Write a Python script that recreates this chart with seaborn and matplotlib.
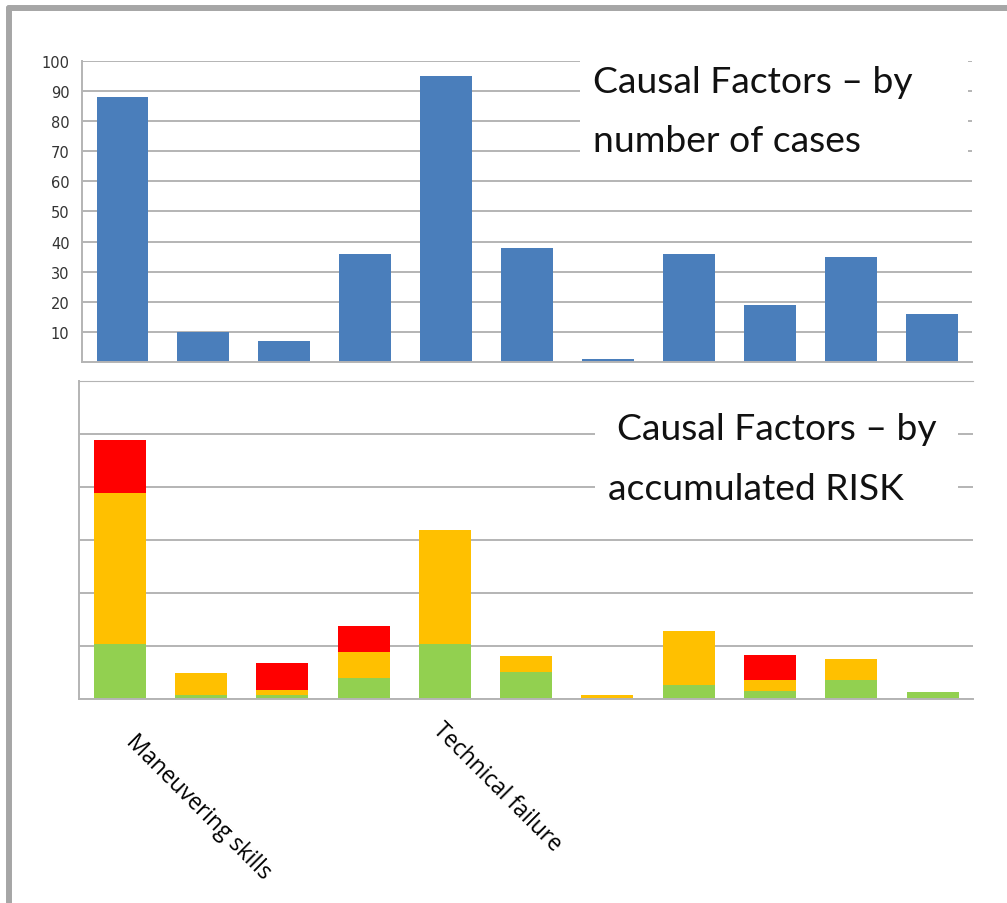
import matplotlib
matplotlib.use("Agg")
import pandas as pd
import seaborn as sns
import matplotlib.pyplot as plt
from matplotlib.patches import Rectangle
from matplotlib.lines import Line2D
from matplotlib.transforms import ScaledTranslation

# causal factors (only two of them are labelled in the original)
factors = ["CF%02d" % i for i in range(1, 12)]
tick_labels = ["Maneuvering skills", "", "", "", "Technical failure",
               "", "", "", "", "", ""]

# number of cases per factor
cases = [88, 10, 7, 36, 95, 38, 1, 36, 19, 35, 16]

# accumulated risk, split by risk level (gridline units)
risk_green = [1.04, 0.08, 0.08, 0.40, 1.04, 0.51, 0.00, 0.26, 0.15, 0.36, 0.13]
risk_orange = [2.85, 0.41, 0.09, 0.49, 2.15, 0.30, 0.08, 1.02, 0.21, 0.39, 0.00]
risk_red = [1.00, 0.00, 0.51, 0.49, 0.00, 0.00, 0.00, 0.00, 0.47, 0.00, 0.00]

BLUE = "#4a7ebb"
GREEN = "#92d050"
ORANGE = "#ffc000"
RED = "#ff0000"
GRID = "#b4b4b4"
TITLE_FONT = ["Lato", "DejaVu Sans"]


def style_axes(ax, top):
    ax.set_xlim(-0.5, len(factors) - 0.5)
    ax.set_ylim(0, top)
    ax.grid(axis="y", color=GRID, linewidth=1.4)
    ax.grid(axis="x", visible=False)
    ax.set_axisbelow(True)
    for side in ["top", "right"]:
        ax.spines[side].set_visible(False)
    for side in ["left", "bottom"]:
        ax.spines[side].set_color(GRID)
        ax.spines[side].set_linewidth(1.4)
    ax.set_xlabel("")
    ax.set_ylabel("")


def title_box(ax, box, lines):
    ax.add_patch(Rectangle(box[:2], box[2], box[3], transform=ax.transAxes,
                           facecolor="white", edgecolor="none", zorder=3,
                           clip_on=False))
    for x, y, txt in lines:
        ax.text(x, y, txt, transform=ax.transAxes, fontsize=26.8,
                family=TITLE_FONT, color="#111111", va="baseline",
                ha="left", zorder=4)


if __name__ == '__main__':
    df = pd.DataFrame({"factor": factors, "cases": cases,
                       "green": risk_green, "orange": risk_orange,
                       "red": risk_red})
    df["lvl_orange"] = df["green"] + df["orange"]
    df["lvl_red"] = df["lvl_orange"] + df["red"]

    sns.set_style("white")
    fig = plt.figure(figsize=(10.07, 9.04), dpi=100)

    # top chart: number of cases
    ax1 = fig.add_axes([0.0814, 0.5985, 0.884, 0.333])
    sns.barplot(data=df, x="factor", y="cases", color=BLUE, saturation=1,
                width=0.64, linewidth=0, ax=ax1)
    style_axes(ax1, 100)
    ax1.set_yticks(range(10, 101, 10))
    ax1.set_xticks([])
    ax1.tick_params(axis="y", length=0, pad=9, labelsize=10.5,
                    labelcolor="#333333")
    title_box(ax1, (0.56, 0.62, 0.435, 0.39),
              [(0.574, 0.897, "Causal Factors – by"),
               (0.574, 0.701, "number of cases")])

    # bottom chart: accumulated risk, stacked by drawing cumulative totals
    ax2 = fig.add_axes([0.0785, 0.2257, 0.888, 0.3518])
    for col, colr in [("lvl_red", RED), ("lvl_orange", ORANGE),
                      ("green", GREEN)]:
        sns.barplot(data=df, x="factor", y=col, color=colr, saturation=1,
                    width=0.64, linewidth=0, ax=ax2)
    style_axes(ax2, 6)
    ax2.spines["top"].set_visible(True)
    ax2.spines["top"].set_color(GRID)
    ax2.set_yticks(range(0, 7))
    ax2.set_yticklabels([])
    ax2.tick_params(axis="y", length=0)
    ax2.set_xticks(range(len(factors)))
    ax2.set_xticklabels(tick_labels, rotation=-45, rotation_mode="anchor",
                        ha="left", va="top", fontsize=16.3, color="black",
                        family=["Open Sans", "DejaVu Sans"])
    ax2.tick_params(axis="x", length=0, pad=19)
    # small per-label nudges (in pixels) to match the original placement
    nudges = {0: (18, -4), 4: (0, 8)}
    for i, lab in enumerate(ax2.get_xticklabels()):
        if i in nudges:
            dx, dy = nudges[i]
            lab.set_transform(lab.get_transform() +
                              ScaledTranslation(dx / 100, dy / 100,
                                                fig.dpi_scale_trans))

    title_box(ax2, (0.577, 0.597, 0.406, 0.346),
              [(0.602, 0.818, "Causal Factors – by"),
               (0.591, 0.629, "accumulated RISK")])

    # grey frame on left and top
    fig.add_artist(Line2D([0.0089, 0.0089], [0, 0.9900], color="#a6a6a6",
                          linewidth=4.3, transform=fig.transFigure))
    fig.add_artist(Line2D([0.0089, 1], [0.9900, 0.9900], color="#a6a6a6",
                          linewidth=4.3, transform=fig.transFigure))

    fig.savefig("out.png", dpi=100)
